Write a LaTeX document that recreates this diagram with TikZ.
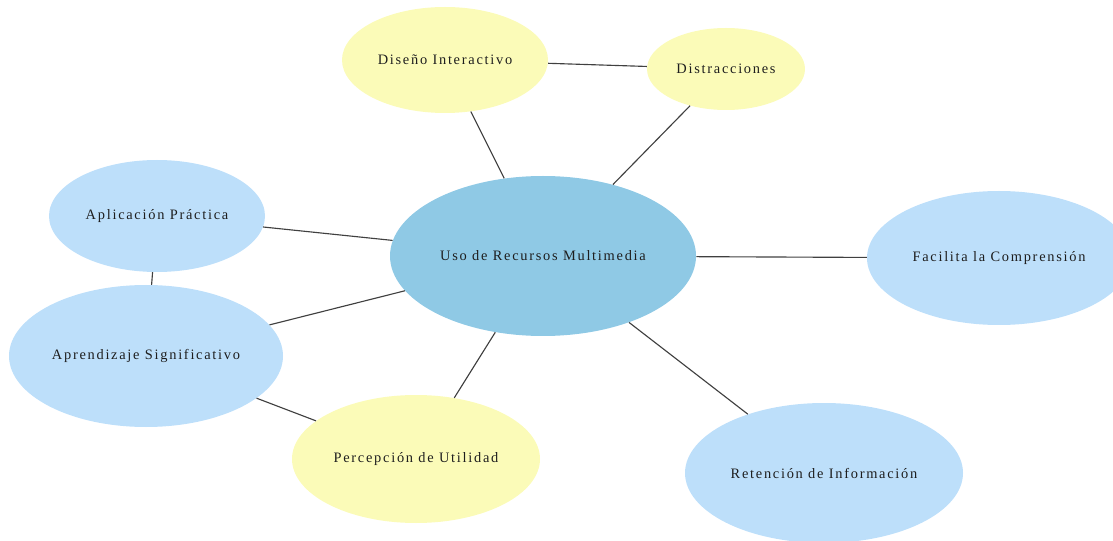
\documentclass[tikz,border=0pt]{standalone}
\usepackage{fontspec}
\setmainfont{Liberation Serif}[LetterSpace=12]
\usepackage{xcolor}
\usepackage{tikz}
\usetikzlibrary{shapes.geometric}

\definecolor{hubblue}{HTML}{8FC9E5}
\definecolor{leafblue}{HTML}{BDDFFA}
\definecolor{leafyellow}{HTML}{FBFBB8}
\definecolor{linkgray}{HTML}{404040}
\definecolor{textdark}{HTML}{1E1E1E}

\begin{document}
\begin{tikzpicture}[
    x=0.75pt, y=-0.75pt,
    bubble/.style={ellipse, inner sep=0pt, text=textdark, font=\fontsize{10.8}{13}\selectfont},
    hub/.style={bubble, fill=hubblue},
    blueleaf/.style={bubble, fill=leafblue},
    yellowleaf/.style={bubble, fill=leafyellow},
    link/.style={draw=linkgray, line width=0.85pt}
]
\useasboundingbox (0,0) rectangle (1113,541);
% sizes in pt (1px = 0.75pt)
\node[hub, minimum width=229.5pt, minimum height=120pt] (uso) at (543,256) {Uso de Recursos Multimedia};
\node[yellowleaf, minimum width=154.5pt, minimum height=79.5pt] (diseno) at (445,60) {Diseño Interactivo};
\node[yellowleaf, minimum width=118.5pt, minimum height=61.5pt] (distr) at (726,69) {Distracciones};
\node[blueleaf, minimum width=162pt, minimum height=84pt] (aplic) at (157,216) {Aplicación Práctica};
\node[blueleaf, minimum width=205.5pt, minimum height=106.5pt] (aprend) at (146,356) {Aprendizaje Significativo};
\node[yellowleaf, minimum width=186pt, minimum height=96pt] (percep) at (416,459) {Percepción de Utilidad};
\node[blueleaf, minimum width=208.5pt, minimum height=105pt] (reten) at (824,473) {Retención de Información};
\node[blueleaf, minimum width=198pt, minimum height=100.5pt] (facil) at (999,258) {Facilita la Comprensión};

\draw[link] (uso) -- (diseno);
\draw[link] (uso) -- (distr);
\draw[link] (diseno) -- (distr);
\draw[link] (uso) -- (aplic);
\draw[link] (aplic) -- (aprend);
\draw[link] (uso) -- (aprend);
\draw[link] (aprend) -- (percep);
\draw[link] (uso) -- (percep);
\draw[link] (uso) -- (facil);
\draw[link] (uso) -- (reten);
\end{tikzpicture}
\end{document}
